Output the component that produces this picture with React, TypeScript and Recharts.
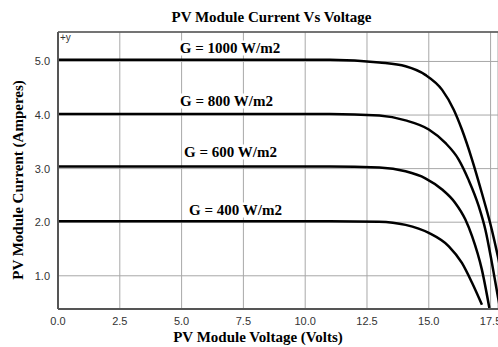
import { CartesianGrid, Line, LineChart, ReferenceLine, XAxis, YAxis } from "recharts";

// voltage (V) / current (A) readings for each irradiance curve
const V_1000 = [0, 11, 13, 14.06, 14.86, 15.54, 16.01, 16.34, 16.75, 17.15, 17.55, 17.8, 18.2];
const I_1000 = [5.03, 5.03, 4.98, 4.91, 4.75, 4.47, 4.1, 3.73, 3.17, 2.54, 1.86, 1.35, 0.4];

const V_800 = [0, 11, 13, 14.06, 15.0, 15.67, 16.21, 16.61, 17.02, 17.29, 17.55, 17.8, 18.0];
const I_800 = [4.02, 4.02, 3.99, 3.9, 3.73, 3.48, 3.17, 2.79, 2.3, 1.86, 1.25, 0.6, 0.1];

const V_600 = [0, 11, 13, 14.06, 14.86, 15.54, 16.07, 16.48, 16.75, 17.15, 17.45];
const I_600 = [3.04, 3.04, 3.02, 2.95, 2.82, 2.61, 2.36, 2.05, 1.74, 1.11, 0.4];

const V_400 = [0, 11, 12.98, 14.06, 15.0, 15.81, 16.34, 16.75, 17.15];
const I_400 = [2.02, 2.02, 2.01, 1.95, 1.8, 1.55, 1.24, 0.87, 0.46];

const X_TICKS = [0, 2.5, 5, 7.5, 10, 12.5, 15, 17.5];
const Y_TICKS = [1, 2, 3, 4, 5];

const SERIES = [
  { name: "G = 1000 W/m2", v: V_1000, i: I_1000 },
  { name: "G = 800 W/m2", v: V_800, i: I_800 },
  { name: "G = 600 W/m2", v: V_600, i: I_600 },
  { name: "G = 400 W/m2", v: V_400, i: I_400 },
];

// label centres in page pixels
const LABEL_POS = [
  { x: 230, y: 48 },
  { x: 226.5, y: 101 },
  { x: 230.5, y: 152 },
  { x: 235.5, y: 210 },
];

const SERIF = '"Liberation Serif", "Times New Roman", serif';
const SANS = '"Liberation Sans", Arial, sans-serif';

const toPoints = (v: number[], i: number[]) => v.map((x, k) => ({ v: x, i: i[k] }));

export default function App() {
  const boldText = {
    position: "absolute" as const,
    fontFamily: SERIF,
    fontWeight: 700,
    fontSize: 15,
    lineHeight: 1,
    color: "#000",
    whiteSpace: "nowrap" as const,
  };

  return (
    <div style={{ position: "absolute", left: 0, top: 0, width: 498, height: 347, background: "#fff" }}>
      <LineChart width={498} height={347} margin={{ top: 32, right: 0, bottom: 0, left: 0 }}>
        <CartesianGrid stroke="#a8a8a8" strokeWidth={1} />
        <XAxis
          type="number"
          dataKey="v"
          domain={[0, 17.8]}
          ticks={X_TICKS}
          interval={0}
          allowDataOverflow
          height={38}
          tickLine={false}
          tickFormatter={(t: number) => t.toFixed(1)}
          tick={{ fill: "#333", fontSize: 11, fontFamily: SANS }}
          axisLine={{ stroke: "#555", strokeWidth: 2 }}
        />
        <YAxis
          type="number"
          dataKey="i"
          domain={[0.38, 5.55]}
          ticks={Y_TICKS}
          interval={0}
          allowDataOverflow
          width={58}
          tickLine={false}
          tickFormatter={(t: number) => t.toFixed(1)}
          tick={{ fill: "#333", fontSize: 11, fontFamily: SANS }}
          axisLine={{ stroke: "#555", strokeWidth: 2 }}
        />
        <ReferenceLine y={5.55} stroke="#555" strokeWidth={1.5} ifOverflow="extendDomain" />
        {SERIES.map((s) => (
          <Line
            key={s.name}
            data={toPoints(s.v, s.i)}
            dataKey="i"
            name={s.name}
            type="monotone"
            stroke="#000"
            strokeWidth={2.5}
            dot={false}
            activeDot={false}
            isAnimationActive={false}
          />
        ))}
      </LineChart>

      <div style={{ ...boldText, left: 271.5, top: 17, transform: "translate(-50%, -50%)" }}>
        PV Module Current Vs Voltage
      </div>
      <div style={{ ...boldText, left: 258, top: 337, transform: "translate(-50%, -50%)" }}>
        PV Module Voltage (Volts)
      </div>
      <div style={{ ...boldText, left: 18, top: 180, transform: "translate(-50%, -50%) rotate(-90deg)" }}>
        PV Module Current (Amperes)
      </div>
      <div style={{ position: "absolute", left: 60, top: 33, fontFamily: SANS, fontSize: 10, color: "#333", lineHeight: 1 }}>
        +y
      </div>
      {SERIES.map((s, k) => (
        <div
          key={s.name}
          style={{
            ...boldText,
            left: LABEL_POS[k].x,
            top: LABEL_POS[k].y,
            transform: "translate(-50%, -50%)",
            background: "#fff",
            padding: "0 2px",
          }}
        >
          {s.name}
        </div>
      ))}
    </div>
  );
}
